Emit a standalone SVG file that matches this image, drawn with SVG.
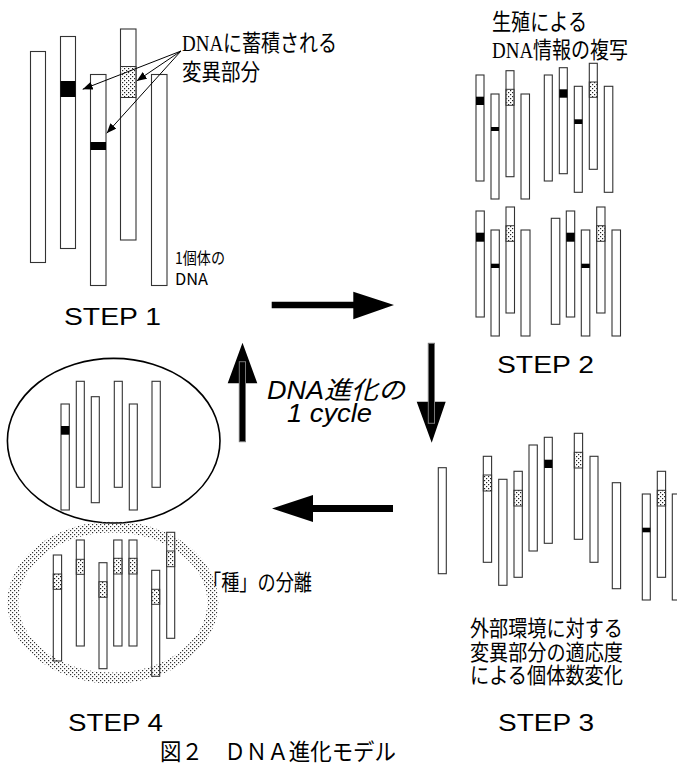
<svg xmlns="http://www.w3.org/2000/svg" width="677" height="767" viewBox="0 0 677 767">
<style>
.dna{fill:#fff;stroke:#333;stroke-width:1.1}
.blk{fill:#000}
.dt{fill:url(#dotsW)}
.jp{font-family:"Noto Sans CJK JP","Noto Sans",sans-serif;fill:#000}
.step{font-family:"Liberation Sans",Arial,sans-serif;font-size:24px;fill:#000}
.ann{stroke:#000;stroke-width:1;fill:none;marker-end:url(#ah)}
.big{fill:#000}
.ghost{fill:none;stroke:#777;stroke-width:1}
</style>
<defs>
<pattern id="dotsW" width="4" height="4" patternUnits="userSpaceOnUse"><rect width="4" height="4" fill="#fff"/><rect x="0" y="0" width="1.2" height="1.2" fill="#222"/><rect x="2" y="2" width="1.2" height="1.2" fill="#222"/></pattern>
<pattern id="dotsT" width="4" height="4" patternUnits="userSpaceOnUse"><rect x="0" y="0" width="1.2" height="1.2" fill="#333"/><rect x="2" y="2" width="1.2" height="1.2" fill="#333"/></pattern>
<marker id="ah" viewBox="0 0 10 8" refX="10" refY="4" markerWidth="10" markerHeight="8" markerUnits="userSpaceOnUse" orient="auto"><path d="M0,0 L10,4 L0,8 z" fill="#000"/></marker>
</defs>
<rect width="677" height="767" fill="#fff"/>

<g id="step1">
<rect class="dna" x="30.5" y="51.5" width="15" height="211"/>
<rect class="dna" x="60.5" y="36.5" width="15" height="212"/>
<rect class="blk" x="60.5" y="81" width="15" height="16"/>
<rect class="dna" x="90.5" y="74.5" width="15.5" height="211"/>
<rect class="blk" x="90.5" y="142" width="15.5" height="8"/>
<rect class="dna" x="120.5" y="29" width="15.5" height="211"/>
<rect class="dt" x="121" y="66.5" width="14.5" height="31"/>
<rect x="120.5" y="66.5" width="15.5" height="31" fill="none" stroke="#333" stroke-width="1"/>
<rect class="dna" x="151.5" y="74.5" width="15.5" height="211"/>
<text class="jp" font-size="22.5"><tspan x="182" y="50.5" textLength="155" lengthAdjust="spacingAndGlyphs"><tspan font-family="Liberation Serif,serif">DNA</tspan>に蓄積される</tspan><tspan x="182" y="79.5" textLength="78" lengthAdjust="spacingAndGlyphs">変異部分</tspan></text>
<text class="jp" font-size="16"><tspan x="175" y="264" textLength="50" lengthAdjust="spacingAndGlyphs">1個体の</tspan><tspan x="175" y="285" textLength="33" lengthAdjust="spacingAndGlyphs">DNA</tspan></text>
<text class="step" x="64" y="325" textLength="97" lengthAdjust="spacingAndGlyphs">STEP 1</text>
</g>

<g id="step2">
<rect class="dna" x="476" y="75" width="8" height="106"/>
<rect class="blk" x="476" y="96.7" width="8" height="8.3"/>
<rect class="dna" x="491" y="94" width="8" height="105"/>
<rect class="blk" x="491" y="127" width="8" height="4"/>
<rect class="dna" x="506" y="70.7" width="8" height="106"/>
<rect class="dt" x="506.5" y="89.3" width="7" height="16"/>
<rect x="506" y="89.3" width="8" height="16" fill="none" stroke="#333" stroke-width="1"/>
<rect class="dna" x="521" y="94" width="8.5" height="105"/>
<rect class="dna" x="544.3" y="75" width="8" height="106"/>
<rect class="dna" x="559.3" y="67.7" width="8" height="106"/>
<rect class="blk" x="559.3" y="89.3" width="8" height="8.4"/>
<rect class="dna" x="574.3" y="86.3" width="8" height="106"/>
<rect class="blk" x="574.3" y="119.3" width="8" height="4.7"/>
<rect class="dna" x="589.3" y="63.3" width="8" height="106"/>
<rect class="dt" x="589.8" y="82" width="7" height="15.3"/>
<rect x="589.3" y="82" width="8" height="15.3" fill="none" stroke="#333" stroke-width="1"/>
<rect class="dna" x="604.3" y="86.3" width="8.5" height="106"/>

<rect class="dna" x="476" y="211" width="8.3" height="106"/>
<rect class="blk" x="476" y="232.7" width="8.3" height="9"/>
<rect class="dna" x="491" y="230" width="8.3" height="106"/>
<rect class="blk" x="491" y="263.7" width="8.3" height="4.3"/>
<rect class="dna" x="506" y="207" width="8.5" height="106"/>
<rect class="dt" x="506.5" y="225.7" width="7.5" height="15.6"/>
<rect x="506" y="225.7" width="8.5" height="15.6" fill="none" stroke="#333" stroke-width="1"/>
<rect class="dna" x="521" y="230" width="9" height="106"/>
<rect class="dna" x="551.3" y="218.3" width="8.5" height="106"/>
<rect class="dna" x="566.3" y="211" width="8.4" height="106"/>
<rect class="blk" x="566.3" y="232.7" width="8.4" height="9"/>
<rect class="dna" x="581.3" y="230" width="8.5" height="106"/>
<rect class="blk" x="581.3" y="263.7" width="8.5" height="4.3"/>
<rect class="dna" x="596.7" y="207" width="8.3" height="106"/>
<rect class="dt" x="597.2" y="225.7" width="7.3" height="15.6"/>
<rect x="596.7" y="225.7" width="8.3" height="15.6" fill="none" stroke="#333" stroke-width="1"/>
<rect class="dna" x="612" y="230" width="8.5" height="106"/>

<text class="jp" font-size="22.5"><tspan x="492" y="29.5" textLength="95" lengthAdjust="spacingAndGlyphs">生殖による</tspan><tspan x="492" y="57.5" textLength="136" lengthAdjust="spacingAndGlyphs"><tspan font-family="Liberation Serif,serif">DNA</tspan>情報の複写</tspan></text>
<text class="step" x="497" y="373" textLength="97" lengthAdjust="spacingAndGlyphs">STEP 2</text>
</g>

<g id="step3">
<rect class="dna" x="438.3" y="467.7" width="8" height="106"/>
<rect class="dna" x="483.3" y="456.3" width="8.3" height="106"/>
<rect class="dt" x="483.8" y="475" width="7.3" height="16"/>
<rect x="483.3" y="475" width="8.3" height="16" fill="none" stroke="#333" stroke-width="1"/>
<rect class="dna" x="498.7" y="479.3" width="8.3" height="106"/>
<rect class="dna" x="514" y="471.3" width="8.3" height="106"/>
<rect class="dt" x="514.5" y="490.3" width="7.3" height="15.7"/>
<rect x="514" y="490.3" width="8.3" height="15.7" fill="none" stroke="#333" stroke-width="1"/>
<rect class="dna" x="529" y="445" width="8.3" height="106"/>
<rect class="dna" x="544.3" y="437.3" width="8" height="106"/>
<rect class="blk" x="544.3" y="459.7" width="8" height="8.3"/>
<rect class="dna" x="574.3" y="433.3" width="8.3" height="106"/>
<rect class="dt" x="574.8" y="452.3" width="7.3" height="15.7"/>
<rect x="574.3" y="452.3" width="8.3" height="15.7" fill="none" stroke="#333" stroke-width="1"/>
<rect class="dna" x="590" y="456.3" width="8" height="106"/>
<rect class="dna" x="612.3" y="482.7" width="8.3" height="106"/>
<rect class="dna" x="642.3" y="494" width="8" height="106"/>
<rect class="blk" x="642.3" y="527.7" width="8" height="4.6"/>
<rect class="dna" x="657.3" y="471.3" width="8.3" height="106"/>
<rect class="dt" x="657.8" y="490.3" width="7.3" height="15.7"/>
<rect x="657.3" y="490.3" width="8.3" height="15.7" fill="none" stroke="#333" stroke-width="1"/>
<rect class="dna" x="672.3" y="494" width="8" height="106"/>
<text class="jp" font-size="22"><tspan x="470" y="636" textLength="153" lengthAdjust="spacingAndGlyphs">外部環境に対する</tspan><tspan x="470" y="659.5" textLength="153" lengthAdjust="spacingAndGlyphs">変異部分の適応度</tspan><tspan x="470" y="683" textLength="153" lengthAdjust="spacingAndGlyphs">による個体数変化</tspan></text>
<text class="step" x="498" y="731" textLength="96" lengthAdjust="spacingAndGlyphs">STEP 3</text>
</g>

<g id="step4">
<ellipse cx="113.7" cy="440.7" rx="106.3" ry="82.3" fill="none" stroke="#000" stroke-width="1.6"/>
<rect class="dna" x="61" y="404" width="8.3" height="106"/>
<rect class="blk" x="61" y="426" width="8.3" height="8.7"/>
<rect class="dna" x="76.3" y="381.3" width="8" height="106"/>
<rect class="dna" x="91.3" y="396.7" width="8" height="106"/>
<rect class="dna" x="114.3" y="381.3" width="8" height="106"/>
<rect class="dna" x="129.3" y="404" width="8" height="106"/>
<rect class="dna" x="152" y="381.3" width="8.3" height="106"/>

<rect class="dna" x="53.3" y="555" width="8.3" height="106"/>
<rect class="dt" x="53.8" y="574" width="7.3" height="15.3"/>
<rect x="53.3" y="574" width="8.3" height="15.3" fill="none" stroke="#333" stroke-width="1"/>
<rect class="dna" x="76.3" y="540" width="8" height="106"/>
<rect class="dt" x="76.8" y="559.3" width="7" height="15"/>
<rect x="76.3" y="559.3" width="8" height="15" fill="none" stroke="#333" stroke-width="1"/>
<rect class="dna" x="99" y="562.7" width="8" height="106"/>
<rect class="dt" x="99.5" y="581.7" width="7" height="15.6"/>
<rect x="99" y="581.7" width="8" height="15.6" fill="none" stroke="#333" stroke-width="1"/>
<rect class="dna" x="113.7" y="540" width="8.3" height="106"/>
<rect class="dt" x="114.2" y="558.3" width="7.3" height="15.7"/>
<rect x="113.7" y="558.3" width="8.3" height="15.7" fill="none" stroke="#333" stroke-width="1"/>
<rect class="dna" x="129" y="540" width="8" height="106"/>
<rect class="dt" x="129.5" y="558.3" width="7" height="15.7"/>
<rect x="129" y="558.3" width="8" height="15.7" fill="none" stroke="#333" stroke-width="1"/>
<rect class="dna" x="151.7" y="570.3" width="8" height="106"/>
<rect class="dt" x="152.2" y="589.3" width="7" height="15"/>
<rect x="151.7" y="589.3" width="8" height="15" fill="none" stroke="#333" stroke-width="1"/>
<rect class="dna" x="166.7" y="532.3" width="8" height="106"/>
<rect class="dt" x="167.2" y="551" width="7" height="15.7"/>
<rect x="166.7" y="551" width="8" height="15.7" fill="none" stroke="#333" stroke-width="1"/>
<ellipse cx="112.8" cy="602.5" rx="100" ry="75.5" fill="none" stroke="url(#dotsT)" stroke-width="11"/>
<text class="jp" font-size="22" x="203" y="590" textLength="109" lengthAdjust="spacingAndGlyphs">「種」の分離</text>
<text class="step" x="68" y="731" textLength="95" lengthAdjust="spacingAndGlyphs">STEP 4</text>
</g>

<g id="connectors">
<line class="ann" x1="181" y1="51" x2="82.7" y2="89.3"/>
<line class="ann" x1="181" y1="51" x2="136.7" y2="81"/>
<line class="ann" x1="181" y1="51" x2="106.7" y2="133.3"/>
<polygon class="big" points="271.7,301.7 353.3,301.7 353.3,291.7 394,305 353.3,319.3 353.3,308.3 271.7,308.3"/>
<polygon class="big" points="428.3,343.3 435,343.3 435,401.7 445.7,401.7 431.7,442.7 416.7,401.7 428.3,401.7"/>
<rect class="ghost" x="428.3" y="343.3" width="6.2" height="80"/>
<polygon class="big" points="393,505 313,505 313,495 272,508.5 313,522 313,512 393,512"/>
<polygon class="big" points="239,441.7 246,441.7 246,383.3 257.3,383.3 242.5,342.7 227.7,383.3 239,383.3"/>
<rect class="ghost" x="239.3" y="361.7" width="6.2" height="80"/>
</g>

<g id="center-label">
<text font-family="Liberation Sans,Arial,sans-serif" font-size="25" font-style="italic"><tspan x="267" y="399" textLength="138" lengthAdjust="spacingAndGlyphs">DNA<tspan font-family="Noto Sans CJK JP,sans-serif">進化の</tspan></tspan><tspan x="287" y="422" textLength="85" lengthAdjust="spacingAndGlyphs">1 cycle</tspan></text>
</g>

<text class="jp" font-size="23" x="160" y="760" textLength="236" lengthAdjust="spacingAndGlyphs">図２　ＤＮＡ進化モデル</text>
</svg>
